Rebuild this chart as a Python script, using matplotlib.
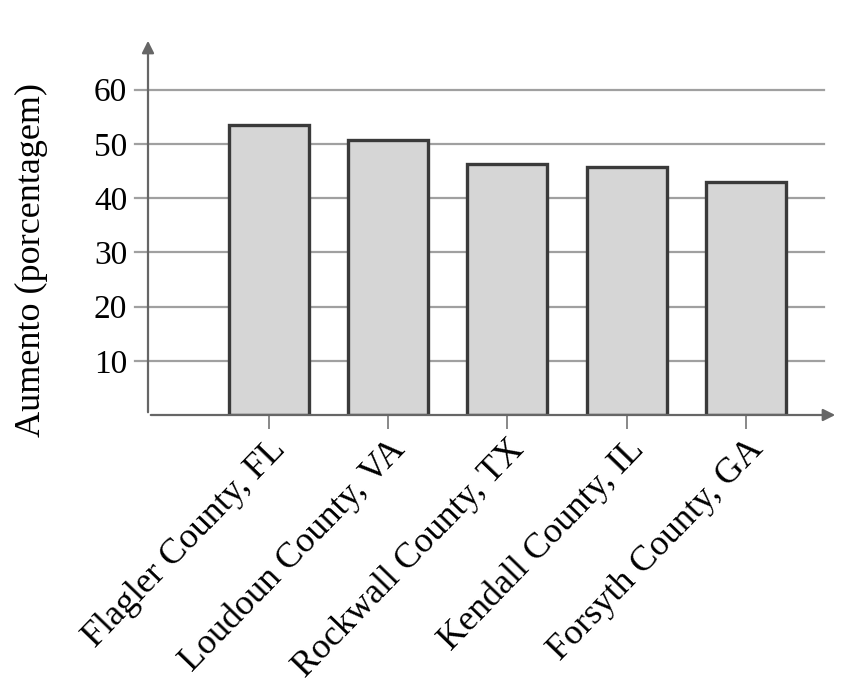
import matplotlib.pyplot as plt

counties = ['Flagler County, FL', 'Loudoun County, VA', 'Rockwall County, TX',
            'Kendall County, IL', 'Forsyth County, GA']
increase = [53.5, 50.7, 46.3, 45.8, 42.9]
y_ticks = [10, 20, 30, 40, 50, 60]

plt.rcParams['font.family'] = ['Liberation Serif', 'DejaVu Serif']

fig = plt.figure(figsize=(8.48, 6.86), dpi=100)
ax = fig.add_axes([148 / 848, (686 - 415) / 686, (838 - 148) / 848, (415 - 38) / 686])

x = list(range(len(counties)))
ax.set_xlim(-1.01, 4.77)
ax.set_ylim(0, 69.5)

# grid lines behind bars
for t in y_ticks:
    ax.plot([-1.12, 4.65], [t, t], color='#a0a0a0', lw=1.6, zorder=1, clip_on=False)

ax.bar(x, increase, width=0.67, color='#d6d6d6', edgecolor='#3a3a3a', linewidth=2.4, zorder=2)

for s in ax.spines.values():
    s.set_visible(False)

# axes with arrows
ax.annotate('', xy=(1.0, 0), xytext=(0, 0), xycoords='axes fraction',
            arrowprops=dict(arrowstyle='-|>', color='#666666', lw=1.6, mutation_scale=18))
ax.annotate('', xy=(0, 1.0), xytext=(0, 0), xycoords='axes fraction',
            arrowprops=dict(arrowstyle='-|>', color='#666666', lw=1.6, mutation_scale=18))

ax.set_yticks(y_ticks)
ax.set_yticklabels([str(t) for t in y_ticks], fontsize=24)
ax.tick_params(axis='y', length=0, pad=15)
ax.set_xticks(x)
ax.set_xticklabels(counties, rotation=46, ha='right', rotation_mode='anchor', fontsize=26)
ax.tick_params(axis='x', length=10, width=1.4, color='#888888', pad=3)

ax.set_ylabel('Aumento (porcentagem)', fontsize=26)
ax.yaxis.set_label_coords(-0.145, 0.41)

fig.savefig('out.png', dpi=100, facecolor='white')
